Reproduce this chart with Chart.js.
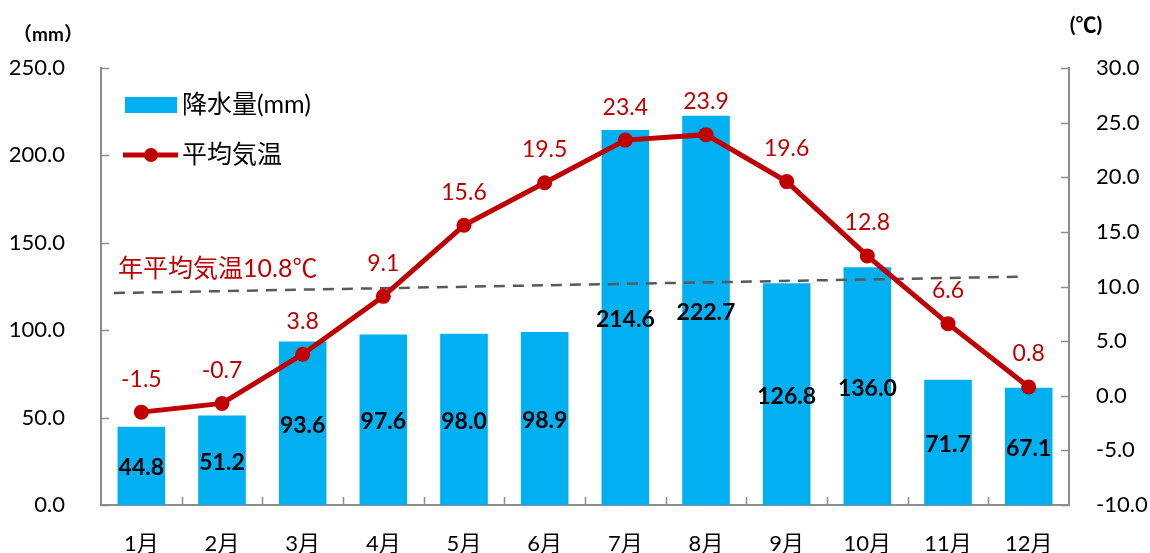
<!DOCTYPE html>
<html>
<head>
<meta charset="utf-8">
<script src="https://cdn.jsdelivr.net/npm/chart.js@4/dist/chart.umd.min.js"></script>
<style>
  html, body { margin: 0; padding: 0; background: #fff; }
  #wrap { width: 1150px; height: 553px; }
</style>
</head>
<body>
<div id="wrap"><canvas id="myChart"></canvas></div>
<script>
const months = ['1月', '2月', '3月', '4月', '5月', '6月', '7月', '8月', '9月', '10月', '11月', '12月'];
const rainfall = [44.8, 51.2, 93.6, 97.6, 98.0, 98.9, 214.6, 222.7, 126.8, 136.0, 71.7, 67.1];
const avgTemp = [-1.5, -0.7, 3.8, 9.1, 15.6, 19.5, 23.4, 23.9, 19.6, 12.8, 6.6, 0.8];
// the dashed annual-mean line in the picture is a little slanted
const annualLineX = [-0.34, 10.91];
const annualLineY = [9.4, 10.9];
const annualLabel = '年平均気温10.8℃';

const FONT = 'Lato, "Noto Sans CJK JP", sans-serif';
const AXIS_GRAY = '#8c8c8c';
const RED = '#c00000';
const BLUE = '#00b0f0';

// inside tick marks, labels, legend and axis titles
const extras = {
  id: 'extras',
  afterDatasetsDraw(chart) {
    const ctx = chart.ctx;
    const a = chart.chartArea;
    const x = chart.scales.x, yL = chart.scales.y, yR = chart.scales.yR;
    ctx.save();
    ctx.strokeStyle = AXIS_GRAY;
    ctx.lineWidth = 1.5;
    ctx.beginPath();
    yL.ticks.forEach(t => {
      const p = Math.round(yL.getPixelForValue(t.value)) + 0.5;
      ctx.moveTo(a.left, p); ctx.lineTo(a.left + 8, p);
    });
    yR.ticks.forEach(t => {
      const p = Math.round(yR.getPixelForValue(t.value)) + 0.5;
      ctx.moveTo(a.right - 8, p); ctx.lineTo(a.right, p);
    });
    for (let i = 1; i < months.length; i++) {
      const p = Math.round((x.getPixelForValue(i - 1) + x.getPixelForValue(i)) / 2) + 0.5;
      ctx.moveTo(p, a.bottom - 8); ctx.lineTo(p, a.bottom);
    }
    ctx.stroke();

    // rainfall values in the middle of each bar
    ctx.textAlign = 'center';
    ctx.textBaseline = 'middle';
    ctx.fillStyle = '#000';
    ctx.font = 'bold 23px ' + FONT;
    chart.getDatasetMeta(0).data.forEach((bar, i) => {
      ctx.fillText(rainfall[i].toFixed(1), bar.x, (bar.y + bar.base) / 2 + 2);
    });

    // temperature values above points
    ctx.fillStyle = RED;
    ctx.font = '23px ' + FONT;
    chart.getDatasetMeta(2).data.forEach((pt, i) => {
      ctx.fillText(avgTemp[i].toFixed(1), pt.x, pt.y - 33);
    });

    // annual mean label
    ctx.textAlign = 'left';
    ctx.font = '25px ' + FONT;
    ctx.fillText(annualLabel, a.left + 17, 269);

    // legend
    ctx.fillStyle = BLUE;
    ctx.fillRect(a.left + 24, 97, 52, 16);
    ctx.strokeStyle = RED;
    ctx.lineWidth = 5;
    ctx.beginPath();
    ctx.moveTo(a.left + 22, 155); ctx.lineTo(a.left + 77, 155);
    ctx.stroke();
    ctx.fillStyle = RED;
    ctx.beginPath();
    ctx.arc(a.left + 50, 155, 7, 0, Math.PI * 2);
    ctx.fill();
    ctx.fillStyle = '#000';
    ctx.font = '25px ' + FONT;
    ctx.fillText('降水量(mm)', a.left + 81, 105);
    ctx.fillText('平均気温', a.left + 81, 155);

    // axis titles
    ctx.font = 'bold 19px ' + FONT;
    ctx.textAlign = 'center';
    ctx.fillText('（mm）', 48, 35);
    ctx.font = 'bold 21px ' + FONT;
    ctx.fillText('(℃)', 1086, 25);
    ctx.restore();
  }
};

new Chart(document.getElementById('myChart').getContext('2d'), {
  type: 'bar',
  data: {
    labels: months,
    datasets: [{
      type: 'bar',
      label: '降水量(mm)',
      data: rainfall,
      backgroundColor: BLUE,
      barPercentage: 0.59,
      categoryPercentage: 1.0,
      grouped: false,
      xAxisID: 'x',
      yAxisID: 'y',
      order: 3
    }, {
      type: 'line',
      label: annualLabel,
      data: annualLineX.map((v, i) => ({ x: v, y: annualLineY[i] })),
      xAxisID: 'xl',
      yAxisID: 'yR',
      borderColor: '#595959',
      borderWidth: 2.5,
      borderDash: [11, 8],
      pointRadius: 0,
      order: 2
    }, {
      type: 'line',
      label: '平均気温',
      data: avgTemp,
      borderColor: RED,
      backgroundColor: RED,
      borderWidth: 5,
      pointRadius: 7.5,
      pointBackgroundColor: RED,
      pointBorderWidth: 0,
      xAxisID: 'x',
      yAxisID: 'yR',
      order: 1
    }]
  },
  options: {
    responsive: true,
    maintainAspectRatio: false,
    animation: false,
    layout: { padding: { top: 68, left: 0, right: 0, bottom: 0 } },
    plugins: {
      legend: { display: false },
      tooltip: { enabled: false }
    },
    scales: {
      x: {
        type: 'category',
        offset: true,
        grid: { display: false },
        border: { color: AXIS_GRAY, width: 2 },
        ticks: { color: '#000', font: { family: FONT, size: 22 }, padding: 18 },
        afterFit(s) { s.height = 48; }
      },
      xl: {
        type: 'linear',
        position: 'bottom',
        display: false,
        offset: false,
        grid: { offset: false },
        bounds: 'data',
        min: -0.5,
        max: 11.5
      },
      y: {
        position: 'left',
        min: 0,
        max: 250,
        grid: { display: false },
        border: { color: AXIS_GRAY, width: 2 },
        ticks: {
          stepSize: 50,
          color: '#000',
          font: { family: FONT, size: 22 },
          padding: 28,
          callback: v => v.toFixed(1)
        },
        afterFit(s) { s.width = 101; }
      },
      yR: {
        position: 'right',
        min: -10,
        max: 30,
        grid: { display: false },
        border: { color: AXIS_GRAY, width: 2 },
        ticks: {
          stepSize: 5,
          color: '#000',
          font: { family: FONT, size: 22 },
          padding: 19,
          callback: v => v.toFixed(1)
        },
        afterFit(s) { s.width = 81; }
      }
    }
  },
  plugins: [extras]
});
</script>
</body>
</html>
